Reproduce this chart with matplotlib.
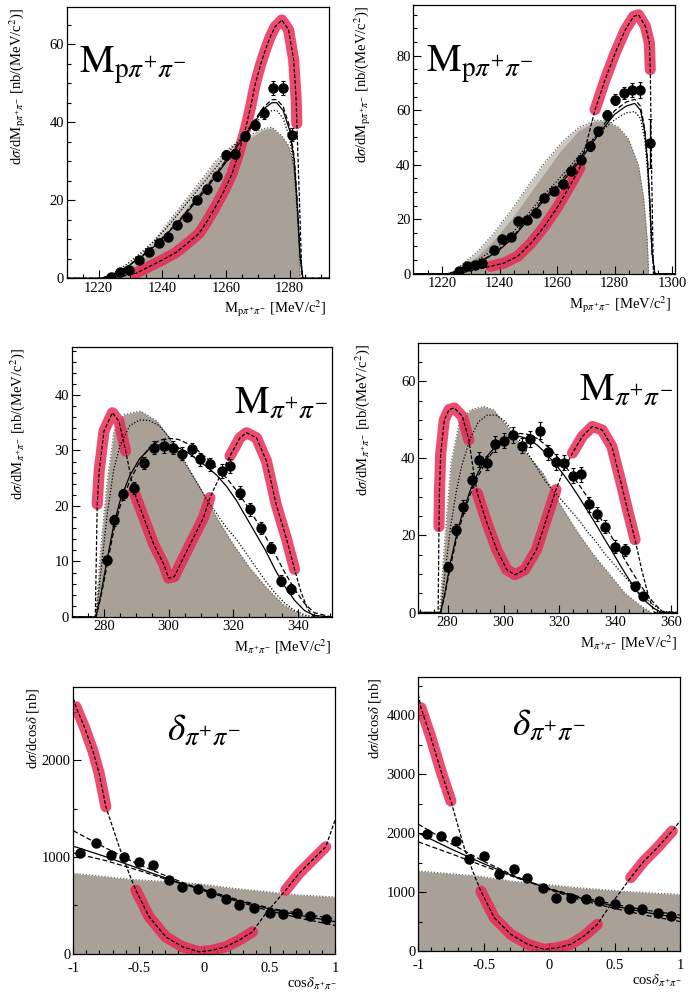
import matplotlib
matplotlib.use('Agg')
import matplotlib.pyplot as plt
from matplotlib.ticker import MultipleLocator, FuncFormatter

plt.rcParams['font.family'] = ['Liberation Serif', 'DejaVu Serif']
plt.rcParams['mathtext.fontset'] = 'stix'

# ---------------- Panel 1 : M_p pi+ pi- (left) ----------------
p1_gray_x = [1221, 1224, 1229.7, 1235.9, 1241.1, 1246.4, 1251.6, 1256.8, 1262, 1267.2, 1271.4, 1274.5, 1277.6, 1279.7, 1281.3, 1282.3, 1282.8, 1283.3]
p1_gray_y = [0, 0.5, 2.5, 6.4, 11.5, 16.7, 22.2, 27.8, 32.5, 35.6, 38, 38.5, 36.3, 33.8, 28.6, 20, 11.5, 0]
p1_gray_hi = [0, 0.8, 3.5, 8, 13.5, 19, 24.5, 30, 34, 36.5, 38.3, 38.7, 36.5, 34, 29, 20.5, 12, 0]
p1_x = [1224.0, 1226.8, 1229.5, 1232.8, 1235.9, 1238.9, 1241.7, 1244.8, 1247.9, 1251.0, 1254.2, 1257.3, 1260.1, 1263.0, 1265.9, 1269.1, 1271.9, 1274.7, 1277.8, 1280.9]
p1_y = [0.4, 1.7, 2.0, 4.7, 6.8, 9.0, 10.5, 13.7, 15.8, 20.1, 22.8, 26.1, 31.6, 31.9, 36.5, 39.3, 42.3, 48.7, 48.7, 36.8]
p1_err = [0.5, 0.6, 0.6, 0.7, 0.8, 0.8, 0.9, 0.9, 1.0, 1.0, 1.1, 1.1, 1.2, 1.2, 1.3, 1.3, 1.4, 1.8, 1.8, 1.6]
p1_cx = [1210, 1221, 1224, 1227, 1230, 1234, 1238, 1242, 1246, 1250, 1254, 1258, 1262, 1266, 1269, 1272, 1274.5, 1276, 1278, 1280, 1281.5, 1282.5, 1283.3, 1284.2, 1292.5]
p1_solid = [0, 0, 0.8, 2, 3.5, 5.8, 8.5, 11.8, 15.2, 19, 23, 27.5, 32, 36.5, 40, 43.5, 45, 45, 43, 38, 30, 18, 6, 0, 0]
p1_dashed = [0, 0, 0.8, 2, 3.6, 6, 8.8, 12, 15.5, 19.5, 23.5, 28, 32.5, 37, 40.5, 44, 45.8, 45.8, 44, 39, 31, 19, 6.5, 0, 0]
p1_dotted = [0, 0, 1, 2.5, 4.3, 7, 10, 13.5, 17.5, 21.5, 25.5, 29.5, 33.5, 37, 39.5, 42, 43, 43, 41, 36, 28, 16, 5, 0, 0]
p1_red_x = [1210, 1224, 1228, 1231.8, 1235.9, 1240.1, 1244.3, 1248, 1251.6, 1254, 1256.8, 1259.5, 1262, 1264, 1266.1, 1267.8, 1269.3, 1271, 1272.4, 1274, 1275.5, 1277.6, 1279.7, 1281.3, 1282.1, 1282.3, 1283.2, 1283.9, 1292.5]
p1_red_y = [0, 0, 0.6, 1.3, 3, 4.7, 6.6, 9, 11.5, 14.5, 18.4, 22.5, 26.9, 32, 38, 44, 50, 55, 58.5, 62, 64.5, 66.2, 63.7, 56, 45.7, 39.7, 18, 0, 0]
p1_red_segments = [(3, 25)]

# ---------------- Panel 2 : M_p pi+ pi- (right) ----------------
p2_gray_x = [1222.9, 1232.3, 1238.1, 1243.9, 1249.8, 1255.6, 1261.5, 1267.3, 1273.2, 1276.7, 1281.3, 1284.8, 1288.3, 1290.1, 1291.3, 1291.8]
p2_gray_y = [0, 6.4, 12.5, 19.8, 28.4, 36.9, 45.5, 52.2, 55.9, 55.9, 53.5, 49.2, 39.4, 27.2, 12.5, 0]
p2_gray_hi = [0, 8, 15, 23, 32, 40.6, 48, 53.5, 56.3, 56.2, 53.8, 49.5, 39.7, 27.5, 12.7, 0]
p2_x = [1225.8, 1228.8, 1231.3, 1234.0, 1238.1, 1241.0, 1243.9, 1246.5, 1249.6, 1252.7, 1255.6, 1258.9, 1262.1, 1265.0, 1268.2, 1271.4, 1274.3, 1277.2, 1280.2, 1283.1, 1286.0, 1288.9, 1292.4]
p2_y = [0.9, 2.7, 3.3, 3.9, 8.6, 12.7, 13.5, 19.2, 19.6, 22.3, 27.8, 30.2, 33, 37.6, 41.9, 46.7, 52.2, 58.3, 63.8, 66.3, 67.5, 67.3, 47.9]
p2_err = [0.5, 0.6, 0.7, 0.7, 0.9, 1, 1, 1.1, 1.1, 1.2, 1.3, 1.3, 1.4, 1.5, 1.5, 1.6, 1.7, 1.8, 2, 2.2, 2.5, 3, 9]
p2_cx = [1210, 1222, 1225, 1228, 1232, 1236, 1240, 1245, 1250, 1255, 1260, 1265, 1270, 1275, 1280, 1284, 1287, 1289, 1290.5, 1291.5, 1292.3, 1293, 1294, 1301]
p2_solid = [0, 0, 0.8, 2, 3.8, 6, 8.8, 13.5, 20, 26.5, 31.5, 37.5, 44.5, 52, 58.5, 61.5, 62.5, 60, 52, 40, 25, 8, 0, 0]
p2_dashed = [0, 0, 0.8, 2, 3.9, 6.2, 9.2, 14, 20.8, 27.2, 32.5, 38.5, 45.5, 53, 59.8, 63, 64, 61.5, 53, 41, 26, 8.5, 0, 0]
p2_dotted = [0, 0, 1, 2.5, 4.8, 7.5, 10.5, 15.5, 22, 28.5, 34, 40, 46.5, 52, 56.5, 59, 59.5, 57, 49, 37, 22, 7, 0, 0]
p2_red_x = [1210, 1224, 1228, 1232, 1236.9, 1241.6, 1246.3, 1251, 1255.6, 1260.3, 1265, 1267.9, 1270.5, 1273.2, 1276.7, 1280.2, 1283.7, 1286.6, 1288.3, 1290.7, 1292.1, 1292.4, 1292.9, 1293.5, 1301]
p2_red_y = [0, 0, 0.6, 1.5, 2.7, 3.9, 6.4, 11.3, 17.4, 24.7, 33.3, 38.8, 49, 60.2, 71.2, 81, 89.5, 94.4, 95, 90.8, 84.6, 74.9, 35, 0, 0]
p2_red_segments = [(4, 11), (13, 21)]

# ---------------- Panel 3 : M_pi+ pi- (left) ----------------
p3_gray_x = [277.4, 279, 281, 283.1, 286.2, 291.3, 296.4, 299.5, 304.6, 309.7, 314.9, 320, 325.1, 330.3, 335.4, 340.5, 343.6]
p3_gray_y = [0, 12.5, 24.5, 33.5, 36.5, 37.1, 35.3, 32.9, 28.1, 23.3, 17.9, 13.1, 8.9, 5.3, 2.3, 0.5, 0]
p3_x = [280.8, 283.1, 285.9, 289.2, 292.3, 295.4, 298.5, 301.5, 304.1, 307.2, 309.7, 312.8, 316.4, 319, 322.1, 325.1, 328.7, 331.8, 334.9, 337.9]
p3_y = [10.2, 17.4, 22.1, 23.3, 27.8, 30.5, 30.8, 30.5, 29.4, 30.2, 28.4, 27.5, 26.3, 27.2, 22.4, 19.4, 16.1, 12.5, 6.5, 5.0]
p3_err = [0.8, 1, 1, 1.1, 1.1, 1.2, 1.2, 1.2, 1.2, 1.2, 1.2, 1.2, 1.2, 1.2, 1.2, 1.2, 1.1, 1, 1, 0.9]
p3_cx = [270, 277.5, 279, 281, 283, 285, 288, 291, 294, 297, 300, 303, 306, 309, 312, 315, 318, 321, 324, 327, 330, 333, 336, 339, 342, 345, 350.5]
p3_solid = [0, 0, 4, 10.5, 16.5, 21, 25.5, 28.5, 30.3, 31, 31, 30.5, 29.6, 28.3, 27, 25.5, 23.5, 21, 18, 15, 12, 8.5, 5.5, 3, 1.2, 0.3, 0]
p3_dashed = [0, 0, 3.5, 9.5, 15.5, 20, 24.5, 28, 30.5, 31.8, 32.2, 32, 31.2, 30, 28.5, 26.8, 25, 22.8, 20.3, 17.5, 14.5, 11.3, 8, 5, 2.5, 0.8, 0]
p3_dotted = [0, 0, 8, 18.5, 26.5, 31, 34.5, 35.5, 35.4, 34.5, 32.5, 30, 27, 24, 21, 18.5, 16, 14, 11.5, 9, 6.5, 4.3, 2.5, 1.2, 0.4, 0, 0]
p3_red_x = [270, 277.3, 277.9, 278.5, 280, 282.6, 284.6, 286.7, 288, 289.2, 292.3, 295.4, 298.5, 300, 301.8, 303.6, 307.7, 310.8, 312.8, 316, 319, 322.1, 324.1, 327.2, 330.3, 333.3, 336.4, 339, 341, 343, 345, 350.5]
p3_red_y = [0, 0, 20.3, 26.3, 33.5, 36.8, 35.3, 29.9, 26.2, 22.7, 17.9, 13.1, 9.5, 7, 7.3, 9.5, 14.3, 17.9, 21.5, 25.5, 29, 32.3, 33.2, 32.3, 28.1, 20.3, 14.3, 8.6, 4.5, 1.5, 0, 0]
p3_red_segments = [(2, 7), (9, 18), (20, 27)]

# ---------------- Panel 4 : M_pi+ pi- (right) ----------------
p4_gray_x = [277.1, 278.8, 281.2, 284.1, 288.2, 292.9, 296.5, 302.4, 308.2, 314.1, 320, 325.9, 331.8, 337.6, 343.5, 349.4, 352.9]
p4_gray_y = [0, 17.1, 38.8, 49.2, 52.6, 53.5, 52.6, 47.4, 41.4, 36.2, 28.4, 21.5, 15.4, 10.2, 5, 1.6, 0]
p4_x = [280, 282.9, 285.6, 288.6, 291.2, 294.1, 297.1, 300, 303.3, 306.5, 309.6, 312.9, 315.9, 318.8, 321.8, 324.7, 327.6, 330.6, 333.5, 336.5, 340, 343.5, 347.1, 350]
p4_y = [11.9, 21.5, 27.5, 34.5, 39.7, 38.8, 43.7, 44.6, 46.1, 43.3, 45, 47.2, 41.6, 39.1, 38.9, 35.5, 35.9, 28.1, 25.5, 22.3, 17.1, 16.3, 6.8, 4.2]
p4_err = [1.2, 1.5, 1.6, 1.8, 1.9, 1.9, 2, 2, 2, 2, 2, 2.2, 2, 2, 2, 2, 2, 1.9, 1.8, 1.7, 1.6, 1.6, 1.2, 1]
p4_cx = [269.5, 277.5, 279, 281, 283, 285, 288, 291, 294, 297, 300, 303, 306, 309, 312, 315, 318, 321, 324, 327, 330, 333, 336, 339, 342, 345, 348, 351, 354, 356, 357, 362]
p4_solid = [0, 0, 5, 13, 19.5, 25, 31.5, 36.5, 40.5, 43, 44.8, 45.6, 45.7, 45, 43.5, 41.5, 39, 36.3, 33.3, 30, 26.5, 23, 19.3, 15.7, 12, 8.5, 5.3, 2.8, 1, 0.2, 0, 0]
p4_dashed = [0, 0, 4.5, 12, 18.5, 24, 30.5, 35.5, 39.5, 42.5, 44.8, 46, 46.5, 46.2, 45.2, 43.6, 41.5, 39, 36.2, 33.2, 30, 26.5, 23, 19.3, 15.5, 11.8, 8.2, 5, 2.3, 0.8, 0.2, 0]
p4_dotted = [0, 0, 10, 22, 31, 38, 45, 49.5, 51.2, 51.3, 50, 47.5, 44.5, 41, 37.5, 34, 31.5, 29, 26.5, 24, 21, 18.5, 15.5, 13, 10.5, 8, 5.5, 3.5, 1.8, 0.8, 0.3, 0]
p4_red_x = [269.5, 276.6, 276.9, 277.1, 277.5, 278.8, 280.5, 282.4, 285.3, 287.6, 289, 290.6, 294.1, 297.6, 301.2, 304.1, 307.6, 311.8, 315.3, 318.8, 321.5, 324.7, 328.2, 331.8, 335.3, 338.8, 341.8, 344.7, 347.1, 349.5, 352, 354, 362]
p4_red_y = [0, 0, 22.3, 32, 41, 50, 52.7, 53.1, 50.9, 44.8, 38, 31, 23.2, 16.3, 11.1, 9.8, 11.1, 16.3, 24.1, 31.9, 37, 41.4, 45.7, 48.3, 47.4, 43.1, 34.5, 25.8, 18.9, 11, 4, 0, 0]
p4_red_segments = [(2, 9), (11, 19), (21, 28)]

# ---------------- Panel 5 : cos delta (left) ----------------
p5_gray_x = [-1, -0.796, -0.542, -0.293, -0.038, 0.216, 0.471, 0.725, 1]
p5_gray_y = [830, 800, 765, 745, 720, 675, 640, 605, 585]
p5_x = [-0.95, -0.83, -0.71, -0.61, -0.50, -0.39, -0.27, -0.17, -0.05, 0.05, 0.17, 0.27, 0.38, 0.50, 0.60, 0.71, 0.81, 0.93]
p5_y = [1040, 1145, 1020, 1000, 950, 914, 760, 690, 672, 621, 559, 500, 466, 424, 407, 414, 390, 362]
p5_err = [35] * 18
p5_cx = [-1, -0.75, -0.5, -0.25, 0, 0.25, 0.5, 0.75, 1]
p5_solid = [1110, 1000, 880, 760, 650, 550, 460, 390, 330]
p5_dashed_hi = [1270, 1090, 920, 780, 650, 540, 440, 360, 290]
p5_dashed_lo = [1040, 960, 860, 750, 660, 560, 470, 410, 360]
p5_red_x = [-1, -0.98, -0.916, -0.852, -0.802, -0.751, -0.649, -0.58, -0.522, -0.42, -0.293, -0.165, -0.038, 0.064, 0.165, 0.267, 0.369, 0.471, 0.55, 0.623, 0.725, 0.827, 0.929, 1]
p5_red_y = [2640, 2552, 2345, 2103, 1862, 1517, 1103, 850, 655, 379, 172, 69, 17, 34, 69, 138, 224, 414, 540, 655, 828, 966, 1103, 1379]
p5_red_segments = [(1, 5), (8, 16), (19, 22)]

# ---------------- Panel 6 : cos delta (right) ----------------
p6_gray_x = [-1, -0.547, -0.293, -0.038, 0.216, 0.471, 0.725, 1]
p6_gray_y = [1356, 1271, 1186, 1130, 1073, 1028, 989, 960]
p6_x = [-0.93, -0.83, -0.71, -0.61, -0.50, -0.38, -0.27, -0.17, -0.05, 0.05, 0.17, 0.28, 0.38, 0.50, 0.61, 0.71, 0.83, 0.93]
p6_y = [1977, 1949, 1864, 1554, 1610, 1299, 1384, 1243, 1073, 904, 904, 876, 847, 791, 706, 706, 650, 593]
p6_err = [45] * 18
p6_cx = [-1, -0.75, -0.5, -0.25, 0, 0.25, 0.5, 0.75, 1]
p6_solid = [2000, 1730, 1480, 1250, 1050, 890, 760, 650, 560]
p6_dashed_hi = [2150, 1820, 1520, 1260, 1040, 860, 720, 600, 500]
p6_dashed_lo = [1850, 1650, 1440, 1240, 1060, 910, 790, 690, 610]
p6_red_x = [-1, -0.98, -0.903, -0.827, -0.751, -0.649, -0.58, -0.522, -0.42, -0.293, -0.165, -0.038, 0.064, 0.165, 0.267, 0.369, 0.471, 0.55, 0.623, 0.725, 0.827, 0.941, 1]
p6_red_y = [4350, 4124, 3616, 3051, 2542, 1751, 1330, 1017, 565, 282, 113, 28, 56, 113, 254, 452, 791, 1020, 1243, 1525, 1751, 2034, 2203]
p6_red_segments = [(1, 4), (7, 15), (18, 21)]

# ---------------- texts ----------------
ylab_M3 = r'd$\sigma$/dM$_{\mathrm{p}\pi^{+}\pi^{-}}$ [nb/(MeV/c$^{2}$)]'
ylab_M2 = r'd$\sigma$/dM$_{\pi^{+}\pi^{-}}$ [nb/(MeV/c$^{2}$)]'
ylab_d = r'd$\sigma$/dcos$\delta$ [nb]'
xlab_M3 = r'M$_{\mathrm{p}\pi^{+}\pi^{-}}$ [MeV/c$^{2}$]'
xlab_M2 = r'M$_{\pi^{+}\pi^{-}}$ [MeV/c$^{2}$]'
xlab_d = r'cos$\delta_{\pi^{+}\pi^{-}}$'
big_M3 = r'$\mathrm{M}_{\mathrm{p}\pi^{+}\pi^{-}}$'
big_M2 = r'$\mathrm{M}_{\pi^{+}\pi^{-}}$'
big_d = r'$\delta_{\pi^{+}\pi^{-}}$'

W, H = 690, 997
fig = plt.figure(figsize=(W / 100, H / 100), dpi=100)
fig.patch.set_facecolor('white')

GRAY = '#a9a197'
GRAY_HI = '#cac7c1'
RED = '#ea2452'


def make_ax(l, r, t, b):
    return fig.add_axes([l / W, 1 - b / H, (r - l) / W, (b - t) / H])


def style(ax, xlim, ylim, xmaj, xmin, ymaj, ymin, xpad=2.5):
    ax.set_xlim(*xlim)
    ax.set_ylim(*ylim)
    ax.xaxis.set_major_locator(MultipleLocator(xmaj))
    ax.xaxis.set_minor_locator(MultipleLocator(xmin))
    ax.yaxis.set_major_locator(MultipleLocator(ymaj))
    ax.yaxis.set_minor_locator(MultipleLocator(ymin))
    fmt = FuncFormatter(lambda v, p: ('%g' % v))
    ax.xaxis.set_major_formatter(fmt)
    ax.yaxis.set_major_formatter(fmt)
    ax.tick_params(which='both', direction='in', top=False, right=False, labelsize=10.5, width=0.8)
    ax.tick_params(which='major', length=6)
    ax.tick_params(which='minor', length=3)
    ax.tick_params(axis='x', pad=xpad)
    ax.tick_params(axis='y', pad=2)
    for s in ax.spines.values():
        s.set_linewidth(0.9)


def draw(ax, gx, gy, ghi, px, py, perr, cx, curves, rx, ry, segs, msize=6.5):
    if ghi is not None:
        ax.fill_between(gx, 0, ghi, color=GRAY_HI, lw=0, zorder=1)
    ax.fill_between(gx, 0, gy, color=GRAY, lw=0, zorder=1.2)
    ax.plot(gx, ghi if ghi is not None else gy, ls=(0, (1, 1.5)), color='#6b655e', lw=0.9, zorder=1.5)
    for a, b in segs:
        ax.plot(rx[a:b + 1], ry[a:b + 1], color=RED, lw=8, alpha=0.82,
                solid_capstyle='round', solid_joinstyle='round', zorder=2)
    for cy, ls in curves:
        ax.plot(cx, cy, color='black', ls=ls, lw=0.9, zorder=3)
    ax.plot(rx, ry, color='black', ls=(0, (3, 1.5)), lw=0.9, zorder=3)
    ax.errorbar(px, py, yerr=perr, fmt='o', color='black', ms=msize, elinewidth=0.9,
                capsize=1.5, capthick=0.8, zorder=5)


# Panel 1
ax1 = make_ax(66.7, 329.3, 6.7, 278.3)
draw(ax1, p1_gray_x, p1_gray_y, p1_gray_hi, p1_x, p1_y, p1_err, p1_cx,
     [(p1_solid, '-'), (p1_dashed, (0, (4, 2))), (p1_dotted, (0, (1, 1.5)))],
     p1_red_x, p1_red_y, p1_red_segments)
style(ax1, (1210, 1292.5), (0, 69.6), 20, 5, 20, 5)

# Panel 2
ax2 = make_ax(413.3, 675, 5, 273.7)
draw(ax2, p2_gray_x, p2_gray_y, p2_gray_hi, p2_x, p2_y, p2_err, p2_cx,
     [(p2_solid, '-'), (p2_dashed, (0, (4, 2))), (p2_dotted, (0, (1, 1.5)))],
     p2_red_x, p2_red_y, p2_red_segments)
style(ax2, (1210, 1301), (0, 98.6), 20, 5, 20, 5)

# Panel 3
ax3 = make_ax(71.7, 331.7, 346.7, 617)
draw(ax3, p3_gray_x, p3_gray_y, None, p3_x, p3_y, p3_err, p3_cx,
     [(p3_solid, '-'), (p3_dashed, (0, (4, 2))), (p3_dotted, (0, (1, 1.5)))],
     p3_red_x, p3_red_y, p3_red_segments)
style(ax3, (270, 350.5), (0, 48.7), 20, 5, 10, 2)

# Panel 4
ax4 = make_ax(418.3, 676.7, 343.3, 612.5)
draw(ax4, p4_gray_x, p4_gray_y, None, p4_x, p4_y, p4_err, p4_cx,
     [(p4_solid, '-'), (p4_dashed, (0, (4, 2))), (p4_dotted, (0, (1, 1.5)))],
     p4_red_x, p4_red_y, p4_red_segments)
style(ax4, (269.5, 362), (0, 69.9), 20, 5, 20, 5)

# Panel 5
ax5 = make_ax(73.3, 335, 686.7, 953.5)
draw(ax5, p5_gray_x, p5_gray_y, None, p5_x, p5_y, p5_err, p5_cx,
     [(p5_solid, '-'), (p5_dashed_hi, (0, (4, 2))), (p5_dashed_lo, (0, (4, 2)))],
     p5_red_x, p5_red_y, p5_red_segments)
style(ax5, (-1, 1), (0, 2760), 0.5, 0.1, 1000, 500, xpad=6)

# Panel 6
ax6 = make_ax(418.3, 680, 676.7, 951)
draw(ax6, p6_gray_x, p6_gray_y, None, p6_x, p6_y, p6_err, p6_cx,
     [(p6_solid, '-'), (p6_dashed_hi, (0, (4, 2))), (p6_dashed_lo, (0, (4, 2)))],
     p6_red_x, p6_red_y, p6_red_segments)
style(ax6, (-1, 1), (0, 4650), 0.5, 0.1, 1000, 500, xpad=6)


def ftext(x, y, s, **kw):
    fig.text(x / W, 1 - y / H, s, **kw)


# y labels (rotated, top aligned)
ftext(18, 8, ylab_M3, rotation=90, ha='center', va='top', fontsize=10.5)
ftext(363, 6, ylab_M3, rotation=90, ha='center', va='top', fontsize=10.5)
ftext(18, 348, ylab_M2, rotation=90, ha='center', va='top', fontsize=10.5)
ftext(363, 344, ylab_M2, rotation=90, ha='center', va='top', fontsize=10.5)
ftext(33, 688, ylab_d, rotation=90, ha='center', va='top', fontsize=10.5)
ftext(375, 678, ylab_d, rotation=90, ha='center', va='top', fontsize=10.5)

# x labels (right aligned, below the tick labels)
ftext(327, 298, xlab_M3, ha='right', va='top', fontsize=10.5)
ftext(672, 294, xlab_M3, ha='right', va='top', fontsize=10.5)
ftext(331, 637, xlab_M2, ha='right', va='top', fontsize=10.5)
ftext(677, 633, xlab_M2, ha='right', va='top', fontsize=10.5)
ftext(337, 976, xlab_d, ha='right', va='top', fontsize=10.5)
ftext(682, 973, xlab_d, ha='right', va='top', fontsize=10.5)

# big in-plot labels
ftext(79, 73, big_M3, ha='left', va='baseline', fontsize=28)
ftext(426, 72, big_M3, ha='left', va='baseline', fontsize=28)
ftext(234, 413, big_M2, ha='left', va='baseline', fontsize=28)
ftext(579, 400, big_M2, ha='left', va='baseline', fontsize=28)
ftext(167, 740, big_d, ha='left', va='baseline', fontsize=27)
ftext(512, 735, big_d, ha='left', va='baseline', fontsize=27)

fig.savefig('out.png', dpi=100, facecolor='white')
